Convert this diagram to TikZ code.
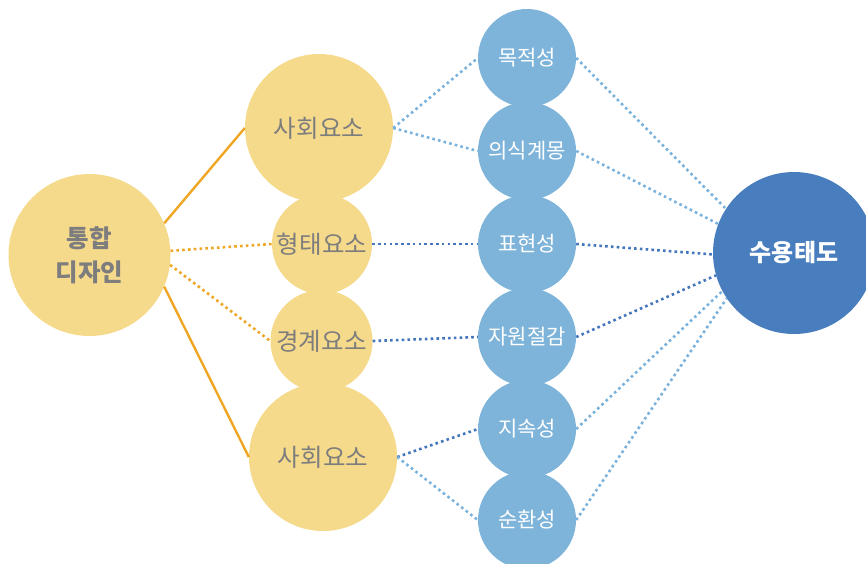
\documentclass[tikz,border=0pt]{standalone}
\usepackage{fontspec}
\setmainfont{Noto Sans CJK KR}
\usetikzlibrary{positioning}
\definecolor{designYellow}{RGB}{246, 218, 140}
\definecolor{designOrange}{RGB}{238, 166, 36}
\definecolor{designGray}{RGB}{125, 125, 125}
\definecolor{designLightBlue}{RGB}{127, 180, 218}
\definecolor{designDarkBlue}{RGB}{72, 126, 189}
\definecolor{designDotLight}{RGB}{122, 178, 222}
\definecolor{designDotDark}{RGB}{68, 118, 188}

\begin{document}
\begin{tikzpicture}[
  x=1pt, y=-1pt,
  elem/.style={circle, fill=designYellow, inner sep=0pt, align=center,
               text=designGray, font=\fontsize{24.5}{34}\selectfont},
  goal/.style={circle, fill=designLightBlue, inner sep=0pt, minimum size=98pt,
               text=white, font=\fontsize{21}{26}\selectfont},
  link/.style={designOrange, line width=2.4pt},
  dotlink/.style={line width=2.6pt, dash pattern=on 2.6pt off 3.2pt}
]
\useasboundingbox (0,0) rectangle (866,563);

% left column
\node[elem, minimum size=162pt, font=\fontsize{24.5}{34}\selectfont\bfseries] (design) at (89.5,255) {통합\\디자인};
\node[elem, minimum size=148pt] (social1) at (319,128) {사회요소};
\node[elem, minimum size=100pt] (form) at (322,244) {형태요소};
\node[elem, minimum size=102pt] (border) at (321.5,341) {경계요소};
\node[elem, minimum size=148pt] (social2) at (323,457) {사회요소};

% blue column
\node[goal] (purpose) at (527,58) {목적성};
\node[goal] (aware) at (527,151) {의식계몽};
\node[goal] (express) at (527,244) {표현성};
\node[goal] (saving) at (527,337) {자원절감};
\node[goal] (sustain) at (527,429) {지속성};
\node[goal] (cycle) at (527,520) {순환성};

\node[circle, fill=designDarkBlue, inner sep=0pt, minimum size=162pt, text=white,
      font=\fontsize{24}{30}\selectfont\bfseries] (accept) at (794,253) {수용태도};

% connectors
\draw[link] (design.23) -- (social1.west);
\draw[link] (design.-23) -- (social2.west);
\draw[dotlink, designOrange] (design.3) -- (form.west);
\draw[dotlink, designOrange] (design.-7) -- (border.west);

\draw[dotlink, designDotLight] (social1.east) -- (purpose.west);
\draw[dotlink, designDotLight] (social1.east) -- (aware.west);
\draw[dotlink, designDotDark] (form.east) -- (express.west);
\draw[dotlink, designDotDark] (border.east) -- (saving.west);
\draw[dotlink, designDotDark] (social2.east) -- (sustain.west);
\draw[dotlink, designDotLight] (social2.east) -- (cycle.west);

\draw[dotlink, designDotLight] (purpose.east) -- (accept.147);
\draw[dotlink, designDotLight] (aware.east) -- (accept.159);
\draw[dotlink, designDotDark] (express.east) -- (accept.181);
\draw[dotlink, designDotDark] (saving.east) -- (accept.196);
\draw[dotlink, designDotLight] (sustain.east) -- (accept.208);
\draw[dotlink, designDotLight] (cycle.east) -- (accept.214);
\end{tikzpicture}
\end{document}
